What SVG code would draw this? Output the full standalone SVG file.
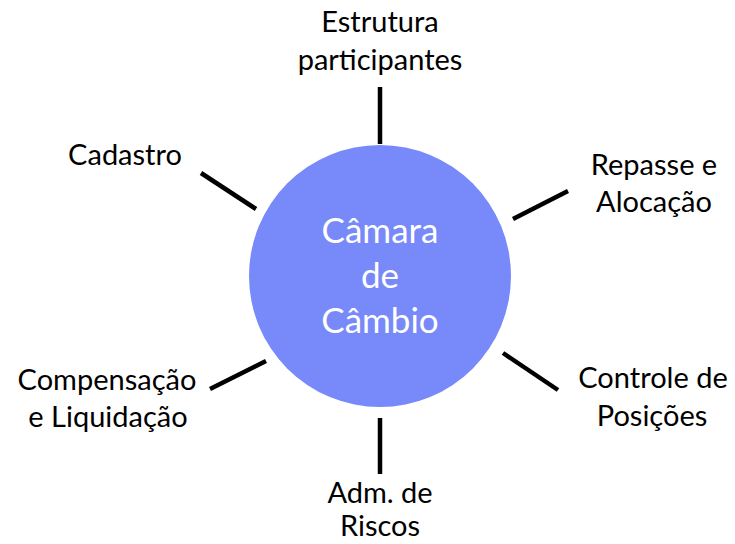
<svg xmlns="http://www.w3.org/2000/svg" width="735" height="544" viewBox="0 0 735 544">
<style>
.lbl{font-family:Lato,"Liberation Sans",sans-serif;font-size:29px;fill:#000;text-anchor:middle}
.ctr{font-family:Lato,"Liberation Sans",sans-serif;font-size:35px;fill:#fff;text-anchor:middle}
.con line{stroke:#000;stroke-width:4.5;stroke-linecap:butt}
</style>
<rect width="735" height="544" fill="#fff"/>
<g id="center">
<circle cx="380" cy="276" r="131" fill="#7889F9"/>
<text class="ctr" x="380" y="243">Câmara</text>
<text class="ctr" x="380" y="288">de</text>
<text class="ctr" x="380" y="333">Câmbio</text>
</g>
<g id="connectors" class="con">
<line x1="380" y1="87" x2="380" y2="144"/>
<line x1="380" y1="418" x2="380" y2="474"/>
<line x1="201" y1="173" x2="256" y2="209"/>
<line x1="513" y1="219" x2="568" y2="191"/>
<line x1="210" y1="389" x2="266" y2="361"/>
<line x1="503" y1="353" x2="558" y2="390"/>
</g>
<g id="estrutura">
<text class="lbl" x="380" y="32">Estrutura</text>
<text class="lbl" x="380" y="70">participantes</text>
</g>
<g id="cadastro">
<text class="lbl" x="125" y="165">Cadastro</text>
</g>
<g id="repasse">
<text class="lbl" x="654" y="175">Repasse e</text>
<text class="lbl" x="654" y="212">Alocação</text>
</g>
<g id="compensacao">
<text class="lbl" x="107" y="390">Compensação</text>
<text class="lbl" x="108" y="427">e Liquidação</text>
</g>
<g id="controle">
<text class="lbl" x="653" y="388">Controle de</text>
<text class="lbl" x="652" y="426">Posições</text>
</g>
<g id="riscos">
<text class="lbl" x="380" y="503">Adm. de</text>
<text class="lbl" x="380" y="536">Riscos</text>
</g>
</svg>
